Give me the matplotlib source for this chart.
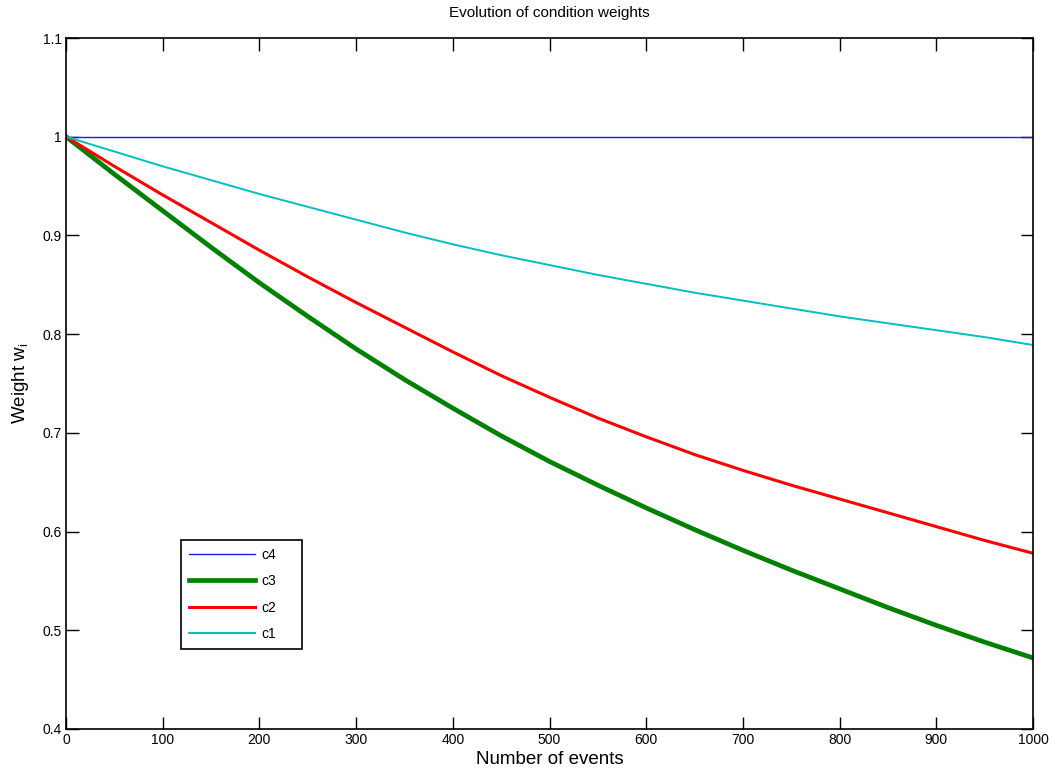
import numpy as np
import matplotlib
matplotlib.use('Agg')
import matplotlib.pyplot as plt

plt.rcParams['font.family'] = ['Liberation Sans', 'DejaVu Sans']
plt.rcParams['mathtext.fontset'] = 'custom'
plt.rcParams['mathtext.rm'] = 'Liberation Sans'

# Weights sampled every 50 events
events = [0, 50, 100, 150, 200, 250, 300, 350, 400, 450, 500,
          550, 600, 650, 700, 750, 800, 850, 900, 950, 1000]
w_c4 = [1.0] * 21
w_c3 = [1.000, 0.962, 0.925, 0.888, 0.852, 0.818, 0.785, 0.754, 0.725, 0.697, 0.671,
        0.647, 0.624, 0.602, 0.581, 0.561, 0.542, 0.523, 0.505, 0.488, 0.472]
w_c2 = [1.000, 0.970, 0.941, 0.913, 0.885, 0.858, 0.832, 0.807, 0.782, 0.758, 0.736,
        0.715, 0.696, 0.678, 0.662, 0.647, 0.633, 0.619, 0.605, 0.591, 0.578]
w_c1 = [1.000, 0.985, 0.970, 0.956, 0.942, 0.929, 0.916, 0.903, 0.891, 0.880, 0.870,
        0.860, 0.851, 0.842, 0.834, 0.826, 0.818, 0.811, 0.804, 0.797, 0.789]

fig = plt.figure(figsize=(10.53, 7.68), dpi=100)
ax = fig.add_axes([0.0627, 0.0508, 0.9183, 0.8997])

ax.plot(events, w_c4, color=(0.1, 0.1, 1), lw=1.0, label='c4')
ax.plot(events, w_c3, color=(0, 0.5, 0), lw=3.4, label='c3')
ax.plot(events, w_c2, color=(1, 0, 0), lw=2.2, label='c2')
ax.plot(events, w_c1, color=(0, 0.75, 0.75), lw=1.4, label='c1')

ax.set_xlim(0, 1000)
ax.set_ylim(0.4, 1.1)
ax.set_xticks(np.arange(0, 1001, 100))
ax.set_yticks(np.arange(0.4, 1.101, 0.1))
ax.set_yticklabels(['0.4', '0.5', '0.6', '0.7', '0.8', '0.9', '1', '1.1'])
ax.tick_params(direction='in', length=9, width=1, top=True, right=True,
               labelsize=10, pad=3)
for s in ax.spines.values():
    s.set_linewidth(1.2)

ax.set_title('Evolution of condition weights', fontsize=11, pad=15)
ax.set_xlabel('Number of events', fontsize=13.5, labelpad=3)
ax.set_ylabel(r'Weight w$_{\mathrm{i}}$', fontsize=13.5, labelpad=8)

# legend box stretched to a fixed width in axes units
leg = ax.legend(loc='lower left', bbox_to_anchor=(0.119, 0.116, 0.125, 0.16),
                mode='expand', fontsize=10, handlelength=4.8, labelspacing=0.9,
                borderpad=0.55, handletextpad=0.45, fancybox=False,
                framealpha=1, edgecolor='black', borderaxespad=0)
leg.get_frame().set_linewidth(1.2)

fig.savefig('out.png', dpi=100)
